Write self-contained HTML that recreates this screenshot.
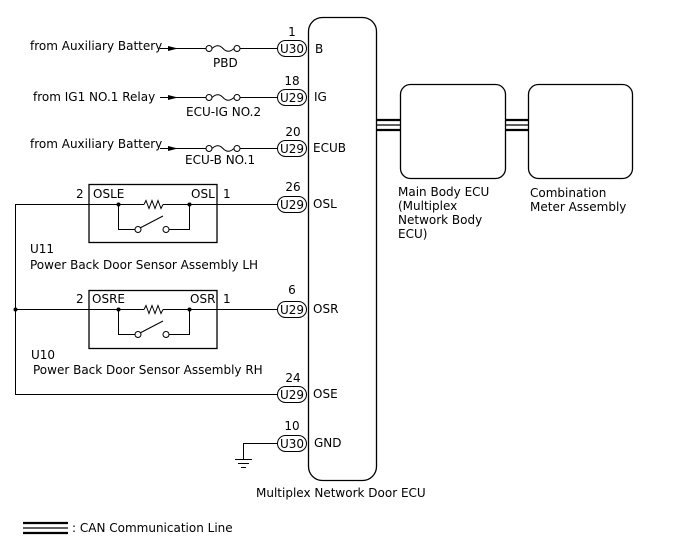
<!DOCTYPE html>
<html><head><meta charset="utf-8"><style>
html,body{margin:0;padding:0;background:#fff;}
svg{display:block;}
text{font-family:"DejaVu Sans","Liberation Sans",sans-serif;font-size:12px;fill:#000;}
</style></head><body>
<svg width="688" height="560" viewBox="0 0 688 560" xmlns="http://www.w3.org/2000/svg">
<g fill="none" stroke="#000" stroke-width="1">
<!-- main ECU -->
<rect x="308.5" y="17.5" width="68" height="463" rx="14" stroke-width="1.3"/>
<rect x="400.5" y="84.5" width="105" height="94" rx="10" stroke-width="1.3"/>
<rect x="528.5" y="84.5" width="104" height="94" rx="10" stroke-width="1.3"/>
<!-- CAN -->
<g stroke-width="2.2"><line x1="377" y1="120" x2="400" y2="120"/><line x1="377" y1="130" x2="400" y2="130"/>
<line x1="506" y1="120" x2="528" y2="120"/><line x1="506" y1="130" x2="528" y2="130"/>
<line x1="23" y1="523" x2="68" y2="523"/><line x1="23" y1="533" x2="68" y2="533"/></g>
<g stroke-width="1.2"><line x1="377" y1="125" x2="400" y2="125"/><line x1="506" y1="125" x2="528" y2="125"/><line x1="23" y1="528" x2="68" y2="528"/></g>
<!-- pills -->
<rect x="277.5" y="40.5" width="29" height="16" rx="8"/>
<rect x="277.5" y="89.5" width="29" height="16" rx="8"/>
<rect x="277.5" y="140.5" width="29" height="16" rx="8"/>
<rect x="277.5" y="196.5" width="29" height="16" rx="8"/>
<rect x="277.5" y="301.5" width="29" height="16" rx="8"/>
<rect x="277.5" y="386.5" width="29" height="16" rx="8"/>
<rect x="277.5" y="435.5" width="29" height="16" rx="8"/>
<!-- supply wires -->
<line x1="160" y1="48.5" x2="206" y2="48.5"/><line x1="240" y1="48.5" x2="277" y2="48.5"/>
<line x1="160" y1="97.5" x2="206" y2="97.5"/><line x1="240" y1="97.5" x2="277" y2="97.5"/>
<line x1="160" y1="148.5" x2="206" y2="148.5"/><line x1="240" y1="148.5" x2="277" y2="148.5"/>
<circle cx="209" cy="48.5" r="3"/><circle cx="237" cy="48.5" r="3"/><path d="M212 48.5 Q218 43 223 48.5 T234 48.5"/>
<circle cx="209" cy="97.5" r="3"/><circle cx="237" cy="97.5" r="3"/><path d="M212 97.5 Q218 92 223 97.5 T234 97.5"/>
<circle cx="209" cy="148.5" r="3"/><circle cx="237" cy="148.5" r="3"/><path d="M212 148.5 Q218 143 223 148.5 T234 148.5"/>
<!-- sensor LH -->
<rect x="89" y="184.5" width="128" height="58" stroke-width="1.3"/>
<line x1="15" y1="204.5" x2="144" y2="204.5"/><path d="M144 204.5 l2 -4 l3 8 l3 -8 l3 8 l3 -8 l3 8 l2 -4"/>
<line x1="163" y1="204.5" x2="277" y2="204.5"/>
<path d="M118.5 204.5 V229.5 H135"/><path d="M189.5 204.5 V229.5 H169"/>
<circle cx="138" cy="229.5" r="3"/><circle cx="166" cy="229.5" r="3"/><line x1="140" y1="228" x2="163" y2="216"/>
<!-- sensor RH -->
<rect x="89" y="290.5" width="128" height="58" stroke-width="1.3"/>
<line x1="15" y1="309.5" x2="144" y2="309.5"/><path d="M144 309.5 l2 -4 l3 8 l3 -8 l3 8 l3 -8 l3 8 l2 -4"/>
<line x1="163" y1="309.5" x2="277" y2="309.5"/>
<path d="M118.5 309.5 V334.5 H135"/><path d="M189.5 309.5 V334.5 H169"/>
<circle cx="138" cy="334.5" r="3"/><circle cx="166" cy="334.5" r="3"/><line x1="140" y1="333" x2="163" y2="321"/>
<!-- OSE -->
<path d="M15.5 204 V394.5 H277"/>
<!-- GND -->
<path d="M277 443.5 H243.5 V459"/>
<line x1="235" y1="459.5" x2="252" y2="459.5"/><line x1="238" y1="463.5" x2="249" y2="463.5"/><line x1="241" y1="467.5" x2="246" y2="467.5"/>
</g>
<g fill="#000">
<path d="M168 46 L178 48.5 L168 51 Z"/><path d="M168 95 L178 97.5 L168 100 Z"/><path d="M168 146 L178 148.5 L168 151 Z"/>
<circle cx="118.5" cy="204.5" r="2"/><circle cx="189.5" cy="204.5" r="2"/>
<circle cx="118.5" cy="309.5" r="2"/><circle cx="189.5" cy="309.5" r="2"/>
<circle cx="15.5" cy="309.5" r="2"/>
</g>
<text x="30" y="50">from Auxiliary Battery</text>
<text x="33" y="101">from IG1 NO.1 Relay</text>
<text x="30" y="148">from Auxiliary Battery</text>
<text x="213" y="67">PBD</text>
<text x="186" y="116">ECU-IG NO.2</text>
<text x="185" y="164">ECU-B NO.1</text>
<g text-anchor="middle"><text x="292" y="36">1</text><text x="292" y="85">18</text><text x="293" y="136">20</text><text x="293" y="191">26</text><text x="292" y="294">6</text><text x="293" y="382">24</text><text x="292" y="430">10</text>
<text x="292" y="53">U30</text><text x="292" y="102">U29</text><text x="292" y="153">U29</text><text x="292" y="209">U29</text><text x="292" y="314">U29</text><text x="292" y="399">U29</text><text x="292" y="448">U30</text></g>
<text x="315" y="53">B</text><text x="314" y="101">IG</text><text x="313" y="152">ECUB</text><text x="313" y="208">OSL</text><text x="313" y="313">OSR</text><text x="313" y="398">OSE</text><text x="314" y="447">GND</text>
<text x="76" y="198">2</text><text x="93" y="198">OSLE</text><text x="191" y="198">OSL</text><text x="223" y="198">1</text>
<text x="76" y="303">2</text><text x="92" y="303">OSRE</text><text x="190" y="303">OSR</text><text x="223" y="303">1</text>
<text x="30" y="253">U11</text><text x="30" y="269">Power Back Door Sensor Assembly LH</text>
<text x="31" y="359">U10</text><text x="33" y="374">Power Back Door Sensor Assembly RH</text>
<text x="256" y="497">Multiplex Network Door ECU</text>
<text x="398" y="196">Main Body ECU</text><text x="398" y="210">(Multiplex</text><text x="398" y="224">Network Body</text><text x="398" y="238">ECU)</text>
<text x="530" y="197">Combination</text><text x="530" y="211">Meter Assembly</text>
<text x="72" y="532">: CAN Communication Line</text>
</svg>
</body></html>
